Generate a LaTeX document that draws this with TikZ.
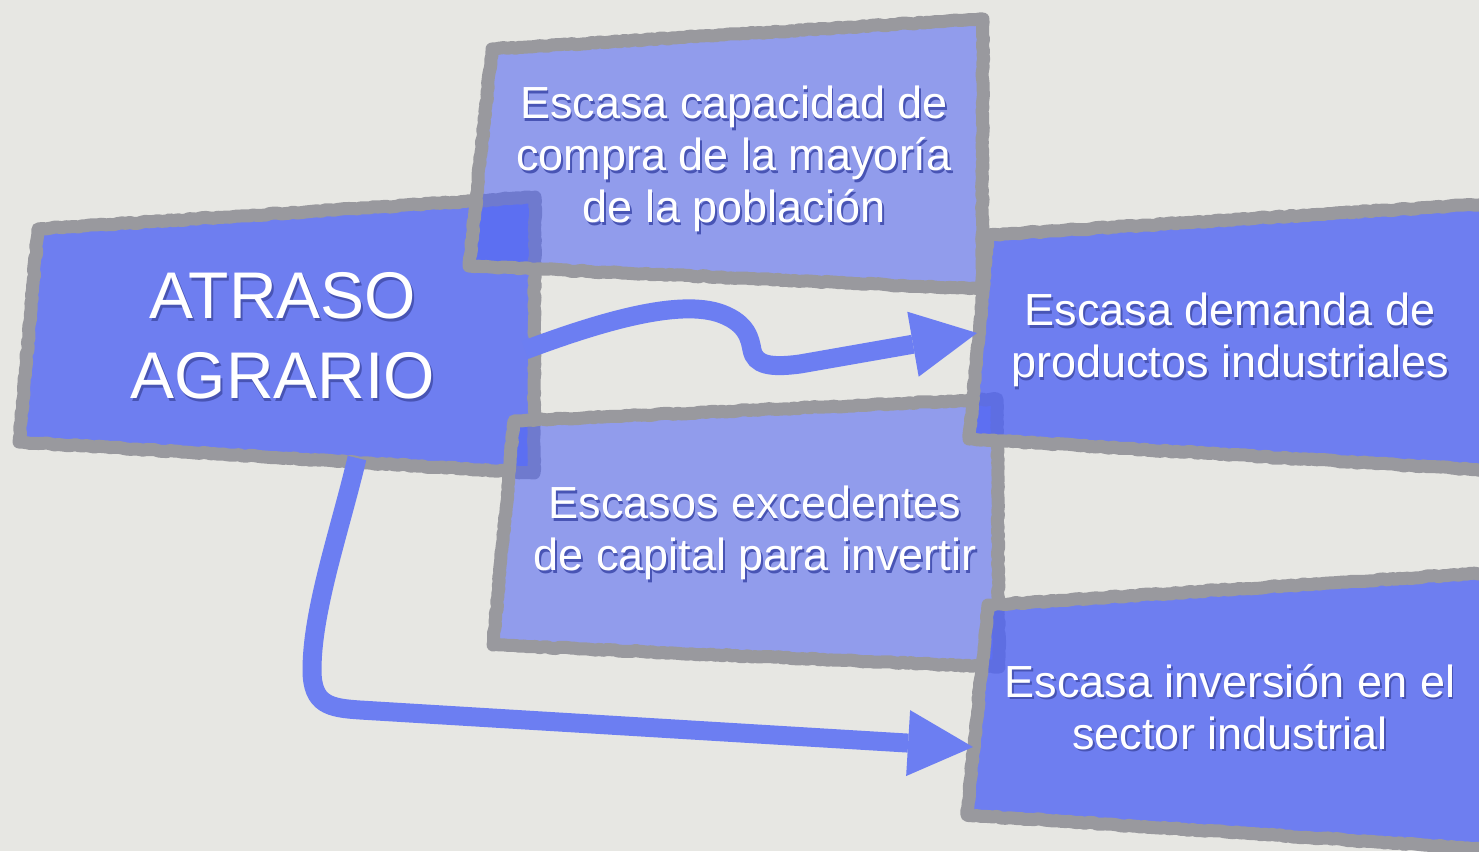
\documentclass[tikz,border=0pt]{standalone}
\usepackage{fontspec}
\setmainfont{Liberation Sans}
\usetikzlibrary{arrows.meta,decorations.pathmorphing}
\definecolor{bgpaper}{RGB}{231,231,227}
\definecolor{boxblue}{RGB}{80,100,244}
\definecolor{bordergray}{RGB}{153,153,158}
\definecolor{arrowblue}{RGB}{108,126,242}
\definecolor{shade}{RGB}{72,84,180}
\newcommand{\shd}[1]{\makebox[0pt][l]{\hspace*{1.8pt}\raisebox{-2.5pt}[0pt][0pt]{\textcolor{shade}{#1}}}#1}
\pgfmathsetseed{7}
\begin{document}
\begin{tikzpicture}[x=1pt,y=-1pt,
  box/.style={draw=bordergray, line width=13pt, line join=round, fill=boxblue,
    decorate, decoration={random steps, segment length=4pt, amplitude=0.8pt}},
  mainbox/.style={box, fill opacity=0.8},
  subbox/.style={box, fill opacity=0.57},
  label/.style={text=white, align=center, inner sep=0pt},
  smalltext/.style={label, font=\fontsize{45}{52}\selectfont},
  arrowline/.style={draw=arrowblue, line width=19pt,
    -{Triangle[length=65pt,width=66pt,line width=0pt]}},
]
\useasboundingbox (0,0) rectangle (1479,851);
\clip (0,0) rectangle (1479,851);
\fill[bgpaper] (0,0) rectangle (1479,851);

% boxes (drawn in stacking order)
\path[mainbox] (38,229) -- (535,197) -- (534,473) -- (19,442) -- cycle;
\path[subbox] (492,49) -- (983,19) -- (982,289) -- (469,266) -- cycle;
\path[subbox] (514,421) -- (997,399) -- (999,667) -- (493,645) -- cycle;
\path[mainbox] (988,235) -- (1500,203) -- (1500,471) -- (969,439) -- cycle;
\path[mainbox] (988,605) -- (1500,572) -- (1500,850) -- (967,815) -- cycle;

% labels
\node[label, font=\fontsize{66}{80}\selectfont] (atraso) at (283,336) {\shd{ATRASO}\\\shd{AGRARIO}};
\node[smalltext] (capacidad) at (734,159) {\shd{Escasa capacidad de}\\\shd{compra de la mayoría}\\\shd{de la población}};
\node[smalltext] (demanda) at (1230,340) {\shd{Escasa demanda de}\\\shd{productos industriales}};
\node[smalltext] (excedentes) at (755,533) {\shd{Escasos excedentes}\\\shd{de capital para invertir}};
\node[smalltext] (inversion) at (1230,707) {\shd{Escasa inversión en el}\\\shd{sector industrial}};

% connectors
\coordinate (atraso-r) at (525,350);
\coordinate (demanda-l) at (977,333);
\coordinate (atraso-b) at (357,458);
\coordinate (inversion-l) at (973,747);
\draw[arrowline] (atraso-r) .. controls (600,322) and (680,298) .. (722,314)
  .. controls (748,324) and (750,340) .. (752,350)
  .. controls (755,365) and (770,368) .. (800,364) -- (demanda-l);
\draw[arrowline] (atraso-b) .. controls (340,530) and (312,610) .. (312,670)
  .. controls (312,705) and (330,708) .. (360,710) -- (inversion-l);
\end{tikzpicture}
\end{document}
